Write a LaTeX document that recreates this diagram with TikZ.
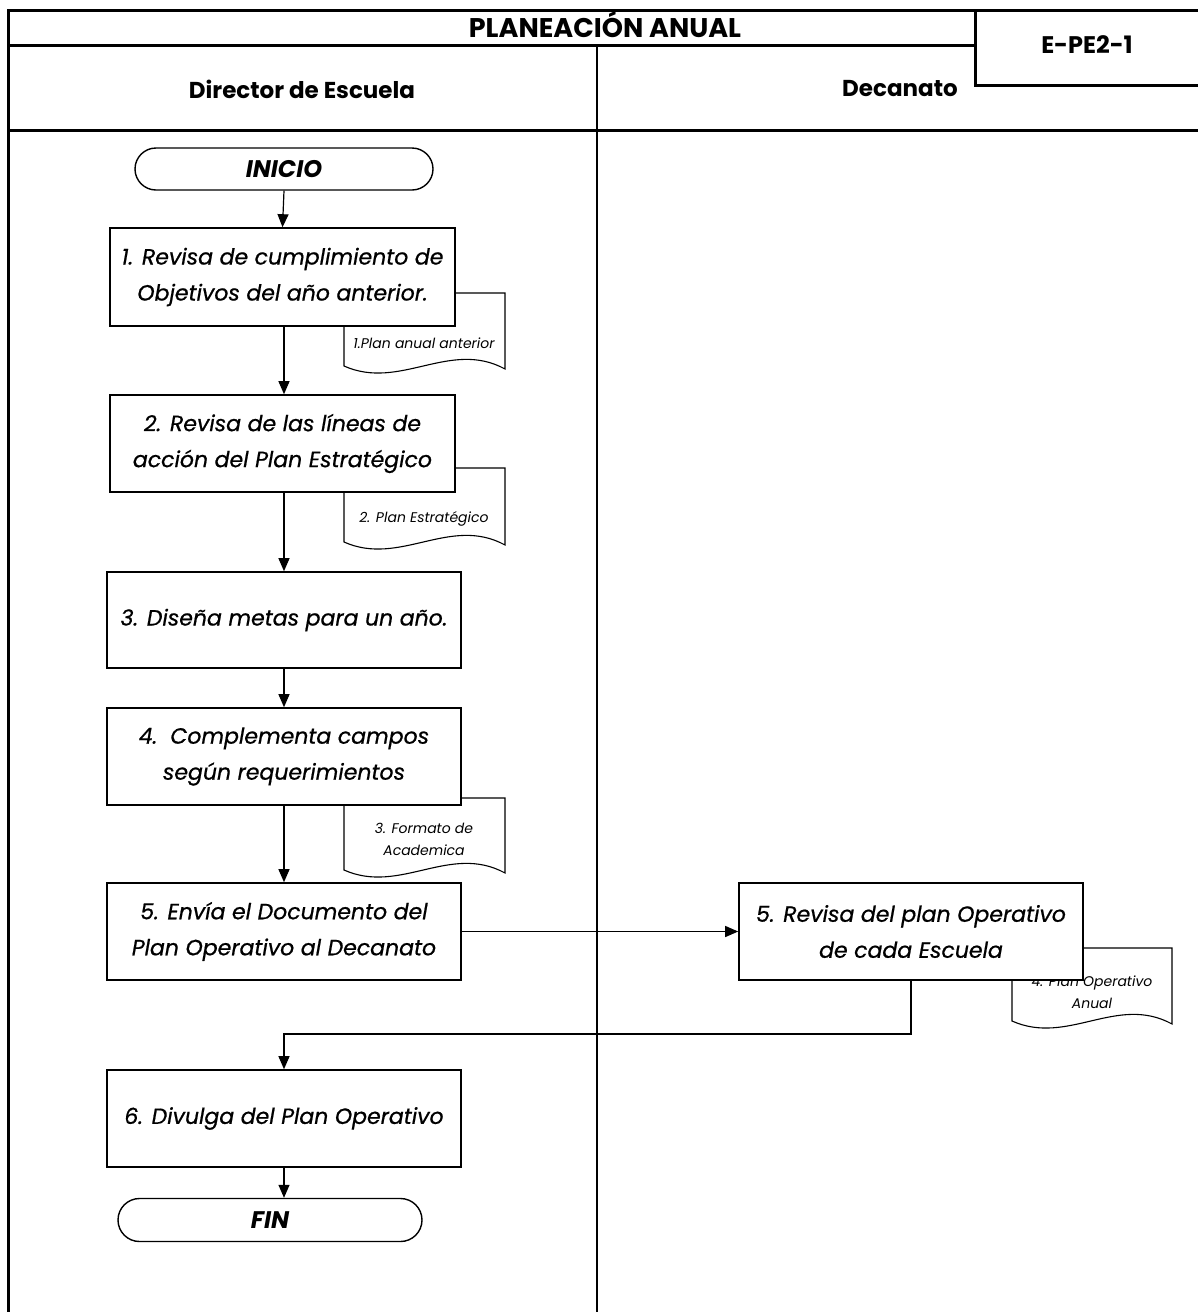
\documentclass[tikz,border=0pt]{standalone}
\usepackage{fontspec}
\setmainfont{Poppins}
\newfontfamily\stepfont{Poppins}[FakeBold=0.7]
\usetikzlibrary{arrows.meta,shapes.misc}

% document sheet with a wavy lower edge: left, top, right, bottom
\newcommand\docsheet[4]{%
  \draw[line width=1.1pt, fill=white] (#1,#2) -- (#3,#2) -- (#3,#4+3)
    .. controls +(-55,-30) and +(56,25) .. (#1,#4) -- cycle;}

\begin{document}
\begin{tikzpicture}[x=1pt,y=-1pt,
  frame/.style={line width=3pt},
  lane/.style={line width=2.2pt},
  head/.style={font=\bfseries\fontsize{23}{26}\selectfont},
  proc/.style={draw, line width=1.6pt, fill=white, align=center,
    inner sep=0pt, font=\stepfont\itshape\fontsize{22}{36}\selectfont},
  term/.style={draw, line width=1.4pt, rounded rectangle, fill=white,
    inner sep=0pt, font=\bfseries\itshape\fontsize{24}{26}\selectfont},
  doclabel/.style={align=center, inner sep=0pt,
    font=\itshape\fontsize{14}{22}\selectfont},
  flow/.style={line width=1.2pt, -{Triangle[length=13pt,width=11pt]}}]

\useasboundingbox (0,0) rectangle (1198,1312);

% outer frame and swimlanes
\draw[frame] (8,1312) -- (8,10) -- (1198,10);
\draw[frame] (8,45) -- (975,45);
\draw[frame] (975,10) -- (975,85) -- (1198,85);
\draw[frame] (8,130) -- (1198,130);
\draw[lane] (597,45) -- (597,1312);

\node[head, anchor=base, font=\bfseries\fontsize{27}{30}\selectfont] (title) at (605,37) {PLANEACIÓN ANUAL};
\node[head, font=\bfseries\fontsize{24}{26}\selectfont] (code) at (1087,45) {E-PE2-1};
\node[head] (laneA) at (302,89) {Director de Escuela};
\node[head] (laneB) at (900,89) {Decanato};

% supporting documents
\docsheet{344}{293}{505}{366}
\node[doclabel] (d1) at (424,343) {1.Plan anual anterior};
\docsheet{344}{468}{505}{542}
\node[doclabel] (d2) at (424,519) {2. Plan Estratégico};
\docsheet{344}{798}{505}{870}
\node[doclabel] (d3) at (424,839) {3. Formato de\\Academica};
\docsheet{1012}{948}{1172}{1021}
\node[doclabel] (d4) at (1092,992) {4. Plan Operativo\\Anual};

% process steps
\node[term, minimum width=298pt, minimum height=42pt] (ini) at (284,169) {INICIO};
\node[proc, minimum width=345pt, minimum height=98pt] (s1) at (282.5,277)
  {1. Revisa de cumplimiento de\\Objetivos del año anterior.};
\node[proc, minimum width=345pt, minimum height=97pt] (s2) at (282.5,443.5)
  {2. Revisa de las líneas de\\acción del Plan Estratégico};
\node[proc, minimum width=354pt, minimum height=96pt] (s3) at (284,620)
  {3. Diseña metas para un año.};
\node[proc, minimum width=354pt, minimum height=97pt] (s4) at (284,756.5)
  {4.\ \ Complementa campos\\según requerimientos};
\node[proc, minimum width=354pt, minimum height=97pt] (s5) at (284,931.5)
  {5. Envía el Documento del\\Plan Operativo al Decanato};
\node[proc, minimum width=344pt, minimum height=97pt] (r5) at (911,931.5)
  {5. Revisa del plan Operativo\\de cada Escuela};
\node[proc, minimum width=354pt, minimum height=97pt] (s6) at (284,1118.5)
  {6. Divulga del Plan Operativo};
\node[term, minimum width=304pt, minimum height=43pt] (fin) at (270,1220) {FIN};

% connectors
\coordinate (turnA) at (911,1034);
\coordinate (turnB) at (284,1034);
\draw[flow] (ini.south) -- (s1.north);
\draw[flow] (s1.south -| 284,0) -- (s2.north -| 284,0);
\draw[flow] (s2.south -| 284,0) -- (s3.north);
\draw[flow] (s3.south) -- (s4.north);
\draw[flow] (s4.south) -- (s5.north);
\draw[flow] (s5.east) -- (r5.west);
\draw[flow] (r5.south) -- (turnA) -- (turnB) -- (s6.north);
\draw[flow] (s6.south) -- (fin.north -| 284,0);
\end{tikzpicture}
\end{document}
